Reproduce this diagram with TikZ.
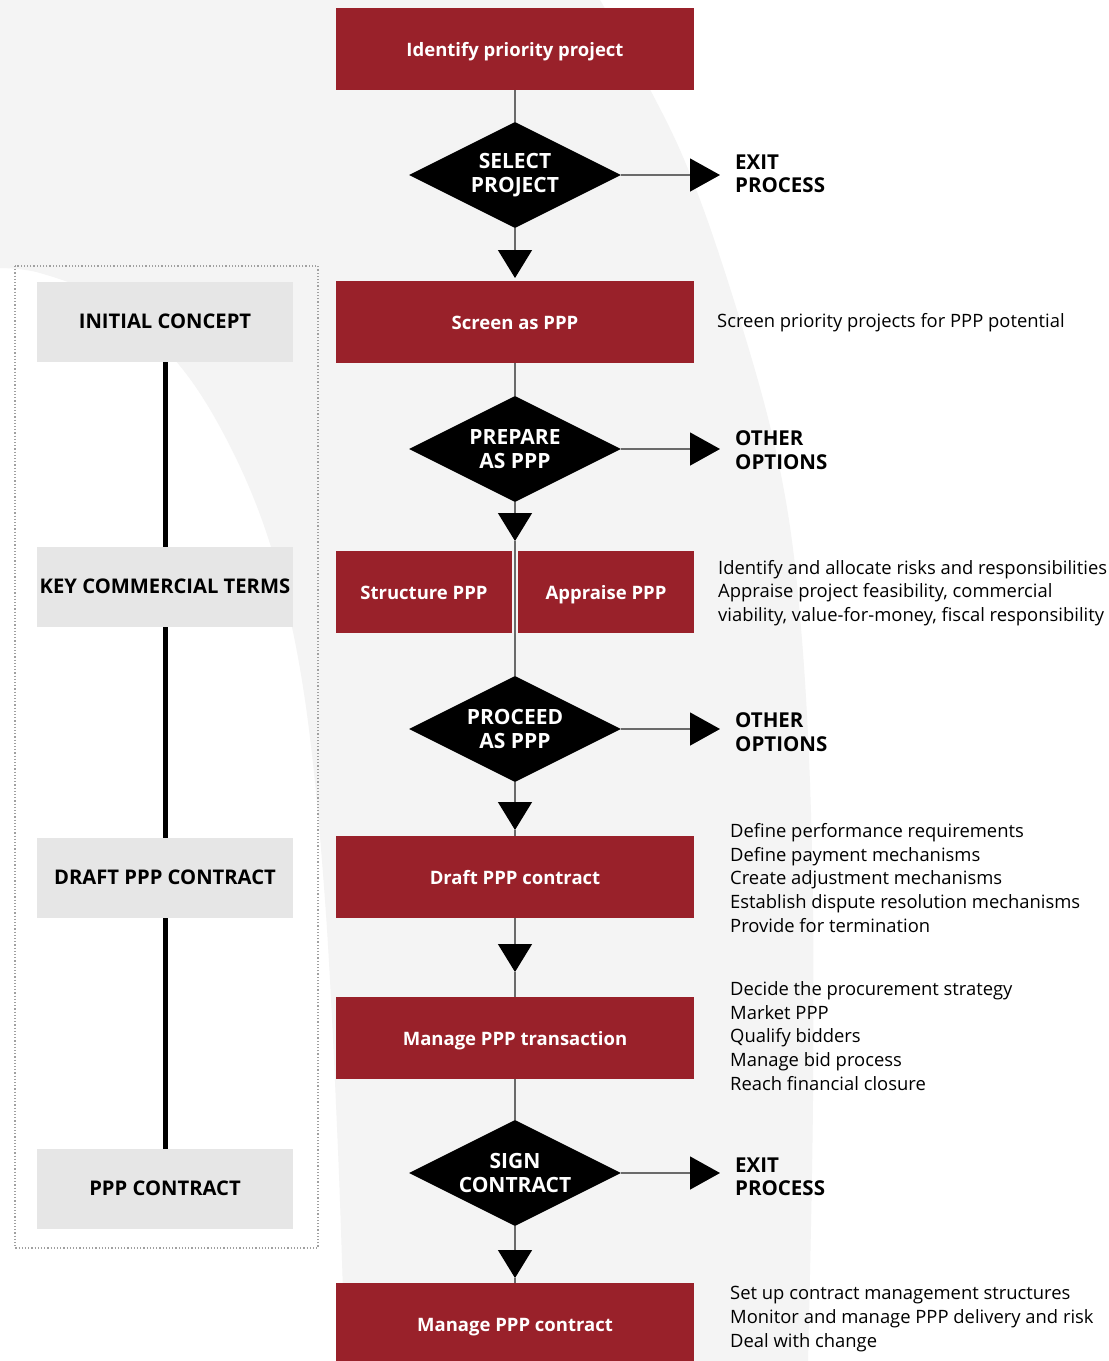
\documentclass[tikz,border=0pt]{standalone}
\usepackage{fontspec}
\setmainfont{Open Sans}
\usetikzlibrary{shapes.geometric,arrows.meta}
\definecolor{pppred}{HTML}{99212A}
\definecolor{bgband}{HTML}{F4F4F4}
\definecolor{stagegrey}{HTML}{E6E6E6}
\definecolor{flowgrey}{HTML}{6A6A6A}
\definecolor{dotgrey}{HTML}{A0A0A0}
\begin{document}
\begin{tikzpicture}[x=1pt,y=-1pt,
  redbox/.style={fill=pppred, text=white, minimum width=358pt, minimum height=82pt, inner sep=0pt, text height=17pt, text depth=2pt, font=\fontsize{18.5}{20}\selectfont\bfseries},
  halfbox/.style={redbox, minimum width=176pt},
  decision/.style={diamond, aspect=2, fill=black, text=white, minimum width=212pt, minimum height=106pt, inner sep=0pt, align=center, font=\fontsize{21}{23.5}\selectfont\bfseries},
  outlabel/.style={anchor=west, align=left, inner sep=0pt, font=\fontsize{20.5}{23.5}\selectfont\bfseries},
  desc/.style={anchor=west, align=left, inner sep=0pt, font=\fontsize{18.4}{23.6}\selectfont},
  stage/.style={fill=stagegrey, minimum width=256pt, minimum height=80pt, inner sep=0pt, text height=15pt, text depth=2pt, font=\fontsize{20.2}{20}\selectfont\bfseries},
  flow/.style={draw=flowgrey, line width=1.3pt},
  downtip/.style={flow, -{Triangle[length=28pt,width=34pt,color=black]}},
  righttip/.style={flow, shorten >=15pt, -{Triangle[length=30pt,width=33pt,color=black]}},
  stageline/.style={line width=5pt, draw=black},
  dotbox/.style={draw=dotgrey, dotted, line width=1.2pt}
]
\path[use as bounding box] (0,0) rectangle (1109,1361);
\fill[white] (0,0) rectangle (1109,1361);
% background band
\fill[bgband] (0,0) -- plot[smooth, tension=0.6] coordinates {(600,0) (680,150) (740,320) (782,480) (802,640) (812,850) (813,1100) (808,1361)}
  -- plot[smooth, tension=0.6] coordinates {(345,1361) (338,1150) (325,900) (305,700) (275,560) (232,450) (175,360) (100,298) (40,273) (0,268)} -- cycle;

% dotted frame
\draw[dotbox] (15,266) rectangle (318,1248);

% main column
\node[redbox] (b1) at (515,49) {Identify priority project};
\node[decision] (d1) at (515,175) {SELECT\\PROJECT};
\node[redbox] (b2) at (515,322) {Screen as PPP};
\node[decision] (d2) at (515,449) {PREPARE\\AS PPP};
\node[halfbox] (b3a) at (424,592) {Structure PPP};
\node[halfbox] (b3b) at (606,592) {Appraise PPP};
\node[decision] (d3) at (515,729) {PROCEED\\AS PPP};
\node[redbox] (b4) at (515,877) {Draft PPP contract};
\node[redbox] (b5) at (515,1038) {Manage PPP transaction};
\node[decision] (d4) at (515,1173) {SIGN\\CONTRACT};
\node[redbox] (b6) at (515,1324) {Manage PPP contract};

\coordinate (t1) at (515,278);
\coordinate (t2) at (515,541);
\coordinate (t3) at (515,830);
\coordinate (t4) at (515,972);
\coordinate (t5) at (515,1278);

\draw[flow] (b1.south) -- (d1.north);
\draw[downtip] (d1.south) -- (t1);
\draw[flow] (b2.south) -- (d2.north);
\draw[downtip] (d2.south) -- (t2);
\draw[flow] (t2) -- (d3.north);
\draw[downtip] (d3.south) -- (t3);
\draw[flow] (t3) -- (b4.north);
\draw[downtip] (b4.south) -- (t4);
\draw[flow] (t4) -- (b5.north);
\draw[flow] (b5.south) -- (d4.north);
\draw[downtip] (d4.south) -- (t5);
\draw[flow] (t5) -- (b6.north);

% side exits
\node[outlabel] (e1) at (735,174) {EXIT\\PROCESS};
\node[outlabel] (e2) at (735,450) {OTHER\\OPTIONS};
\node[outlabel] (e3) at (735,732) {OTHER\\OPTIONS};
\node[outlabel] (e4) at (735,1177) {EXIT\\PROCESS};
\draw[righttip] (d1.east) -- (d1.east -| e1.west);
\draw[righttip] (d2.east) -- (d2.east -| e2.west);
\draw[righttip] (d3.east) -- (d3.east -| e3.west);
\draw[righttip] (d4.east) -- (d4.east -| e4.west);

% descriptions
\node[desc] (n2) at (717,323) {Screen priority projects for PPP potential};
\node[desc] (n3) at (718,593) {Identify and allocate risks and responsibilities\\Appraise project feasibility, commercial\\viability, value-for-money, fiscal responsibility};
\node[desc] (n4) at (730,878) {Define performance requirements\\Define payment mechanisms\\Create adjustment mechanisms\\Establish dispute resolution mechanisms\\Provide for termination};
\node[desc] (n5) at (730,1036) {Decide the procurement strategy\\Market PPP\\Qualify bidders\\Manage bid process\\Reach financial closure};
\node[desc] (n6) at (730,1319) {Set up contract management structures\\Monitor and manage PPP delivery and risk\\Deal with change};

% stages
\node[stage] (s1) at (165,322) {INITIAL CONCEPT};
\node[stage] (s2) at (165,587) {KEY COMMERCIAL TERMS};
\node[stage] (s3) at (165,878) {DRAFT PPP CONTRACT};
\node[stage] (s4) at (165,1189) {PPP CONTRACT};
\draw[stageline] (s1.south) -- (s2.north);
\draw[stageline] (s2.south) -- (s3.north);
\draw[stageline] (s3.south) -- (s4.north);
\end{tikzpicture}
\end{document}
